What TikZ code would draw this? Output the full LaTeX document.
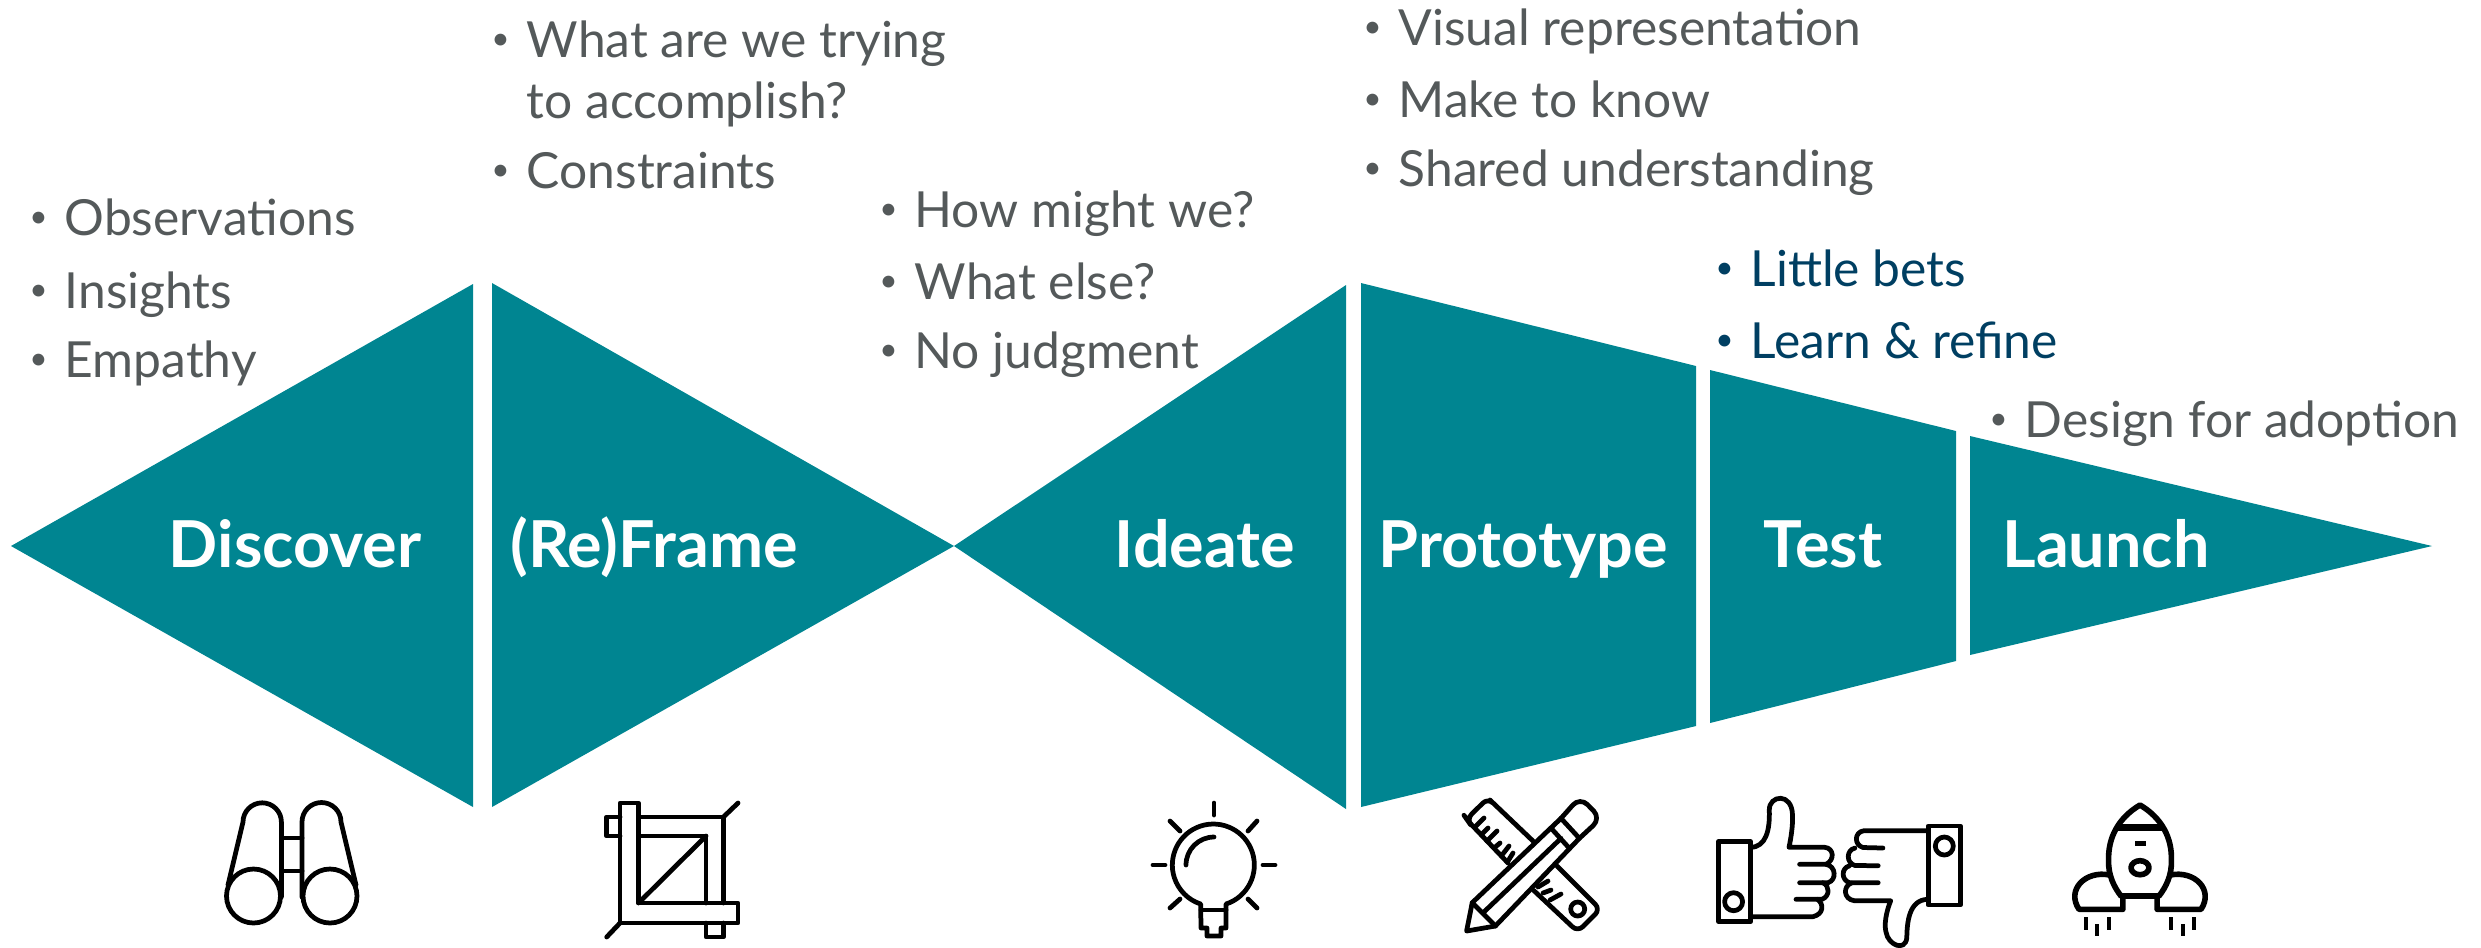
\documentclass[tikz,border=0pt]{standalone}
\usepackage{fontspec}
\setmainfont{Lato}
\definecolor{tealfill}{HTML}{008591}
\definecolor{greytext}{HTML}{54595A}
\definecolor{bluetext}{HTML}{003F62}
\newcommand{\bul}{\llap{\raisebox{2.1pt}{\fontsize{9}{9}\selectfont\textbullet}\hskip 4.8pt}}
\tikzset{
  stage/.style={fill=tealfill},
  title/.style={anchor=base,inner sep=0,text=white,font=\fontsize{18.4}{20}\selectfont\bfseries},
  plain/.style={anchor=base west,inner sep=0,text=greytext,font=\fontsize{14.15}{16}\selectfont},
  item/.style={plain,execute at begin node=\bul},
  hot/.style={item,text=bluetext},
  icon/.style={draw=black,line width=1.35pt,line join=round,line cap=round}
}
\begin{document}
\begin{tikzpicture}[x=.01cm,y=-.01cm]
      \useasboundingbox (0,0) rectangle (2481,947);

      % funnel
      \fill [stage] (11,546) -- (473,284) -- (473,807) -- cycle;
      \fill [stage] (492,283) -- (954,546) -- (492,807) -- cycle;
      \fill [stage] (954,546) -- (1346,285) -- (1346,809) -- cycle;
      \fill [stage] (1361,283) -- (1696,366) -- (1696,726) -- (1361,807) -- cycle;
      \fill [stage] (1710,370) -- (1956,431) -- (1956,661) -- (1710,723) -- cycle;
      \fill [stage] (1970,436) -- (2432,546) -- (1970,655) -- cycle;

      \node [title] (discover) at (295,567) {Discover};
      \node [title] (reframe) at (654,567) {(Re)Frame};
      \node [title] (ideate) at (1205,567) {Ideate};
      \node [title] (prototype) at (1523,567) {Prototype};
      \node [title] (test) at (1823,567) {Test};
      \node [title] (launch) at (2106,567) {Launch};

      \node [item] (obs) at (64,235) {Observations};
      \node [item] (ins) at (64,308) {Insights};
      \node [item] (emp) at (64,377) {Empathy};
      \node [item] (what) at (526,57) {What are we trying};
      \node [plain] (acc) at (526,118) {to accomplish?};
      \node [item] (con) at (526,188) {Constraints};
      \node [item] (how) at (914,227) {How might we?};
      \node [item] (els) at (914,299) {What else?};
      \node [item] (jud) at (914,368) {No judgment};
      \node [item] (vis) at (1398,45) {Visual representation};
      \node [item] (mak) at (1398,117) {Make to know};
      \node [item] (sha) at (1398,186) {Shared understanding};
      \node [hot] (bet) at (1750,286) {Little bets};
      \node [hot] (lea) at (1750,358) {Learn \& refine};
      \node [item] (ado) at (2024,437) {Design for adoption};

      % binoculars
      \draw [icon] (253.5,896) circle [radius=27] (330,896) circle [radius=27];
      \draw [icon] (228,885) -- (243,822) arc [start angle=180,end angle=360,radius=19.2] -- (281.4,897);
      \draw [icon] (356,885) -- (341,822) arc [start angle=360,end angle=180,radius=19.5] -- (302,897);
      \draw [icon] (281.4,838) -- (302,838) (281.4,871) -- (302,871);

      % crop
      \draw [icon] (620,803) -- (638.5,803) -- (638.5,903) -- (738,903) -- (738,923) -- (620,923) -- cycle;
      \draw [icon] (638.5,817) -- (723.4,817) -- (723.4,903) (638.5,836) -- (706,836) -- (706,903);
      \draw [icon] (638.5,903) -- (706,836);
      \draw [icon] (620,817) -- (606.7,817) -- (606.7,836) -- (620,836);
      \draw [icon] (706,923) -- (706,937) -- (723.4,937) -- (723.4,923);
      \draw [icon] (723.4,817) -- (738,803) (620,923) -- (606.7,937);

      % bulb
      \draw [icon] (1226,904) arc [start angle=72,end angle=-252,radius=41] -- (1201,928) -- (1207,928)
        -- (1207,936) -- (1221,936) -- (1221,928) -- (1226,928) -- cycle;
      \draw [icon] (1201,910) -- (1226,910);
      \draw [icon] (1186,865) arc [start angle=180,end angle=270,radius=28];
      \foreach \ax/\ay/\bx/\by in {1214/803/1214/815,1153/865/1165/865,1263/865/1275/865,1170/821/1180/831,1257/821/1248/831,1170/908/1180/899,1257/908/1248/899}
        \draw [icon] (\ax,\ay) -- (\bx,\by);

      % ruler and pencil
      \draw [icon] (1533,841) -- (1490,800) [rounded corners=2pt] -- (1488,798) -- (1466.6,819) -- (1468,821) [sharp corners] -- (1508,863);
      \draw [icon,rounded corners=2pt] (1557,866) -- (1600.3,909.3) -- (1577.7,931.7) -- (1534,890.7);
      \foreach \ax/\ay/\bx/\by in {1475/827/1484/818,1482/834/1488/828,1487/841/1497/831,1494/848/1500/843,1502/855/1509/846,1508/861/1513/853,1538/887/1548/881,1543/893/1551/890,1550/900/1561/894}
        \draw [icon] (\ax,\ay) -- (\bx,\by);
      \draw [icon] (1577.7,909) circle [radius=7];
      \draw [icon] (1466.6,931) -- (1472.2,902.7) -- (1561,818.3) -- (1579.4,838.3) -- (1495.4,926) -- cycle;
      \draw [icon] (1472.2,902.7) -- (1495.4,926) (1484.2,911.7) -- (1561,838.3) (1551.2,828.3) -- (1569.4,848.3);
      \draw [icon,rounded corners=3pt] (1561,818.3) -- (1580,797) -- (1601,818.3) -- (1579.4,838.3);

      % thumb up
      \draw [icon] (1718.6,841.7) rectangle (1750.7,921.7);
      \draw [icon] (1733.6,901.7) circle [radius=9];
      \draw [icon] (1750.7,847.3) .. controls (1766,847) and (1770,830) .. (1769.3,810)
        .. controls (1769,795) and (1792,792) .. (1792.5,815) .. controls (1793,825) and (1791,838) .. (1789,847.3)
        -- (1824.6,847.3) .. controls (1834,848) and (1835,860) .. (1826,864.3) -- (1799.6,864.3);
      \draw [icon] (1826,864.3) .. controls (1836,866) and (1837,880) .. (1828,882.7) -- (1799.6,882.7);
      \draw [icon] (1822.9,882.7) .. controls (1830,886) and (1830,896) .. (1822,899.3) -- (1796,899.3);
      \draw [icon] (1817.5,899.3) .. controls (1824,904) and (1824,914) .. (1812.9,916.7) -- (1750.7,916.7);

      % thumb down
      \draw [icon] (1928.2,826) rectangle (1960.4,905);
      \draw [icon] (1944.3,846) circle [radius=9];
      \draw [icon] (1928.2,830.7) -- (1863.9,830.7) .. controls (1854,832) and (1854,845) .. (1863,847.5) -- (1882.9,848);
      \draw [icon] (1855,848) .. controls (1846,850) and (1846,863) .. (1855,865.5) -- (1878.2,865.7);
      \draw [icon] (1849.6,865.7) .. controls (1841,868) and (1841,880) .. (1849.6,882.7) -- (1878.2,882.7);
      \draw [icon] (1851.4,883) .. controls (1843,886) and (1843,899) .. (1854.3,900.7) -- (1890.7,900.7)
        .. controls (1886,912) and (1884,925) .. (1886,932) .. controls (1888,945) and (1905,952) .. (1906.8,938)
        .. controls (1907,922) and (1909,900) .. (1927.5,899.3);

      % rocket
      \draw [icon,line width=1.6pt,line cap=butt] (2140,805) .. controls (2118,818) and (2108,838) .. (2108.6,860)
        .. controls (2108,875) and (2114,887) .. (2121,896) -- (2159,896)
        .. controls (2166,887) and (2172,875) .. (2171.4,860) .. controls (2172,838) and (2162,818) .. (2140,805) -- cycle;
      \draw [icon,line width=2pt,line cap=butt] (2117.5,827.3) -- (2162.5,827.3);
      \draw [icon,line width=1.6pt,line cap=butt] (2122.9,896) -- (2122.9,909.3) -- (2079,909.3) .. controls (2066,890) and (2085,870) .. (2110,875);
      \draw [icon,line width=1.6pt,line cap=butt] (2157.1,896) -- (2157.1,909.3) -- (2201,909.3) .. controls (2214,890) and (2195,870) .. (2170,875);
      \draw [icon,line width=1.6pt] (2140,867.7) ellipse [x radius=9,y radius=7];
      \fill (2135,841) rectangle (2146,846);
      \foreach \ex/\ea/\eb in {2086/917/930,2097/924/936,2109/917/930,2171/917/930,2183/924/936,2194/917/930}
        \draw [icon,line cap=butt] (\ex,\ea) -- (\ex,\eb);
    \end{tikzpicture}
\end{document}
